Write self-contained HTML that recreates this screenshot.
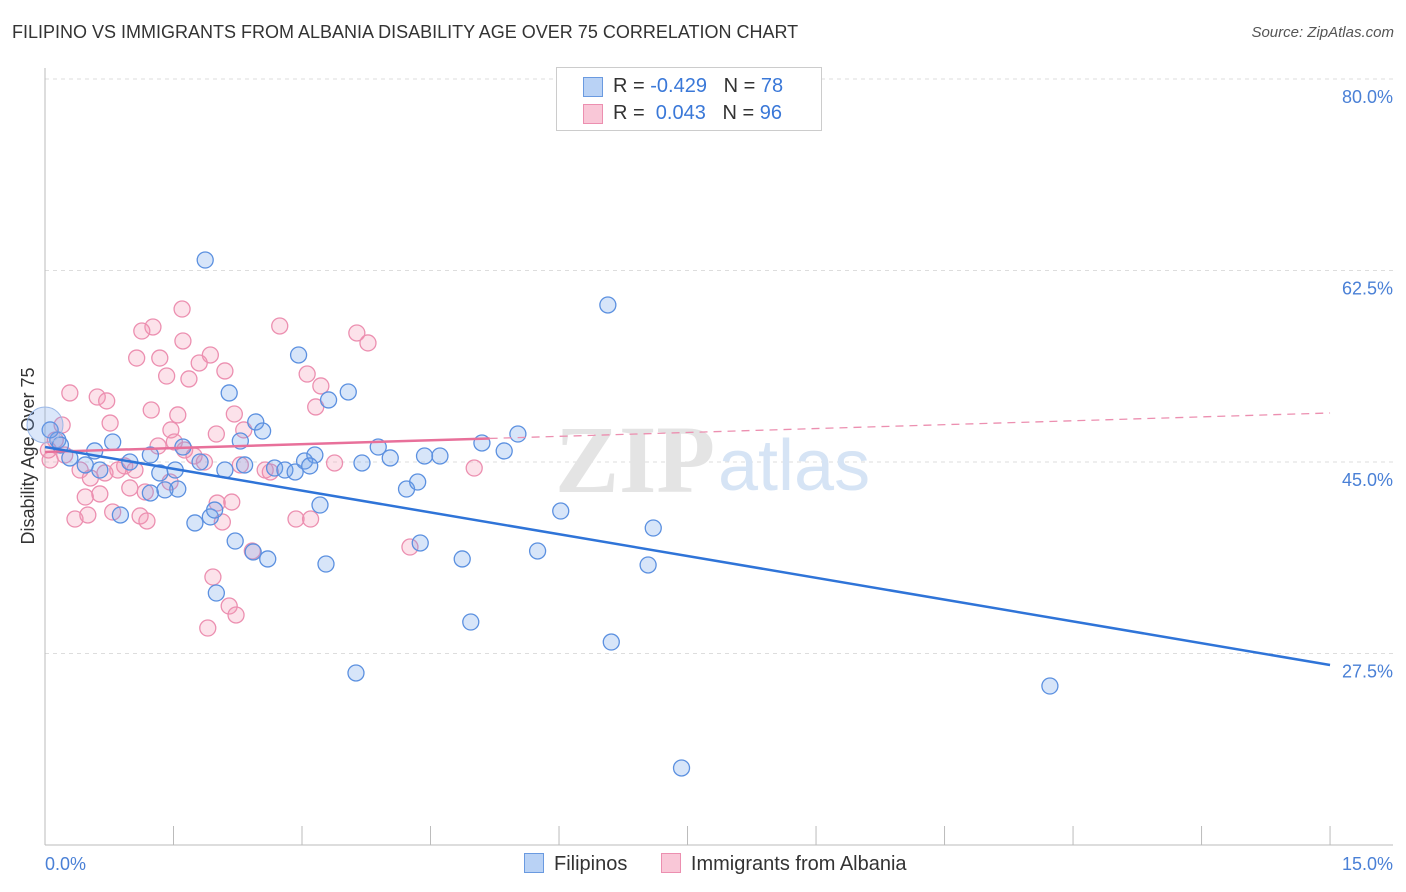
<!DOCTYPE html>
<html><head><meta charset="utf-8">
<style>
body{margin:0;background:#fff;font-family:"Liberation Sans",sans-serif;}
#wrap{position:relative;width:1406px;height:892px;overflow:hidden}
.t{position:absolute;white-space:nowrap}
</style></head>
<body>
<div id="wrap">
<div class="t" style="left:12px;top:22px;font-size:18px;color:#333">FILIPINO VS IMMIGRANTS FROM ALBANIA DISABILITY AGE OVER 75 CORRELATION CHART</div>
<div class="t" style="right:12px;top:24px;font-size:15px;color:#555;font-style:italic">Source: ZipAtlas.com</div>
<svg id="svg" width="1406" height="892" style="position:absolute;left:0;top:0"></svg>
</div>
<script>
const blueX=[1.87,6.57,2.96,3.54,2.15,3.31,2.46,2.54,5.52,5.10,5.36,3.89,2.28,1.61,0.79,0.58,0.15,0.06,0.18,0.29,0.47,0.64,0.99,1.23,1.34,1.52,1.81,2.10,2.33,2.68,2.80,2.92,3.03,3.15,3.09,3.70,4.03,4.43,4.61,4.22,4.35,1.55,1.23,1.40,0.88,1.75,1.93,1.98,2.22,2.43,2.60,3.21,3.28,4.38,4.87,5.75,6.02,7.10,7.04,2.00,4.97,6.61,3.63,11.73,7.43];
const blueY=[63.46,59.35,54.78,51.40,51.31,50.67,48.66,47.83,47.56,46.74,46.01,46.37,46.92,46.37,46.83,46.01,47.01,47.93,46.55,45.37,44.73,44.27,45.0,45.64,44.0,44.27,45.0,44.27,44.73,44.45,44.27,44.09,45.09,45.64,44.64,44.91,45.37,45.55,45.55,42.53,43.17,42.53,42.17,42.45,40.16,39.43,39.98,40.61,37.78,36.78,36.14,41.07,35.68,37.60,36.14,36.87,40.52,38.97,35.59,33.03,30.38,28.55,25.72,24.53,17.04];
const pinkX=[1.60,2.74,3.64,3.77,1.26,1.13,1.61,1.93,1.07,1.34,1.80,2.10,3.06,1.42,1.68,3.22,0.29,0.61,0.72,1.24,1.55,3.16,2.21,0.76,0.20,0.12,2.32,2.00,1.47,1.51,1.32,1.63,1.74,1.86,2.28,2.57,2.63,0.93,0.85,1.05,0.70,0.41,0.53,0.64,0.47,0.99,1.17,1.46,2.01,2.18,0.79,1.11,1.19,0.35,0.50,2.93,3.10,2.07,2.42,4.26,1.96,2.15,2.23,1.90,5.01,3.38,0.06,0.04,0.23];
const pinkY=[58.98,57.43,56.79,55.88,57.34,56.97,56.06,54.78,54.50,54.50,54.05,53.32,53.04,52.86,52.59,51.95,51.31,50.94,50.58,49.75,49.30,50.03,49.39,48.56,48.38,47.01,47.93,47.56,47.93,46.83,46.46,46.10,45.55,45.0,44.73,44.27,44.09,44.64,44.27,44.27,44.0,44.27,43.54,42.08,41.80,42.63,42.26,43.17,41.25,41.34,40.43,40.07,39.61,39.79,40.16,39.79,39.79,39.52,36.87,37.23,34.49,31.84,31.02,29.83,44.45,44.91,45.18,46.10,45.64];
const yTicks=[80,62.5,45,27.5];
const yTickLabels=["80.0%","62.5%","45.0%","27.5%"];
const xTickLabels=["0.0%","15.0%"];
const blueTrend=[46.37,26.45]; // y at x=0 and x=15
const pinkTrend=[45.92,49.48];
const pinkSolidEnd=5.19;

const X=v=>45+v*85.67, Y=v=>79+(80-v)*10.943;
const svg=document.getElementById('svg');const NS='http://www.w3.org/2000/svg';
function mk(tag,attrs,parent){const e=document.createElementNS(NS,tag);for(const k in attrs)e.setAttribute(k,attrs[k]);(parent||svg).appendChild(e);return e;}
// grid
yTicks.forEach((t,i)=>{
 const g=mk('line',{x1:45,x2:1393,y1:Y(t),y2:Y(t),stroke:'#ddd','stroke-dasharray':'4,4'});
 
 
 const tx=mk('text',{x:1393,y:Y(t)+24,'text-anchor':'end','font-size':18,fill:'#4a80d6','font-family':'Liberation Sans, sans-serif'});
 tx.textContent=yTickLabels[i];
 
 
});
mk('line',{x1:45,x2:45,y1:68,y2:845,stroke:'#bbb'});
mk('line',{x1:45,x2:1393,y1:845,y2:845,stroke:'#bbb'});
for(let i=0;i<=10;i++){const x=X(i*1.5);const tk=mk('line',{x1:x,x2:x,y1:826,y2:845,stroke:'#bbb'});
 
 }
[[0,'start',45],[1,'end',1393]].forEach(([i,a,x])=>{const t=mk('text',{x:x,y:870,'text-anchor':a,'font-size':18,fill:'#4a80d6','font-family':'Liberation Sans, sans-serif'});t.textContent=xTickLabels[i];
 
 });
const yt=mk('text',{x:34,y:456,'text-anchor':'middle','font-size':18,fill:'#333',transform:'rotate(-90 34 456)','font-family':'Liberation Sans, sans-serif'});yt.textContent='Disability Age Over 75';


// watermark
const wm=mk('text',{x:555,y:492,'font-size':96,fill:'#e4e4e4','font-family':'Liberation Serif, serif','font-weight':'bold'});wm.textContent='ZIP';


const wm2=mk('text',{x:718,y:490,'font-size':72,fill:'#d6e4f5','font-family':'Liberation Sans, sans-serif'});wm2.textContent='atlas';


// points
pinkX.forEach((v,i)=>{const c=mk('circle',{cx:X(v),cy:Y(pinkY[i]),r:8,fill:'rgba(244,150,180,0.28)',stroke:'#ec8fb0','stroke-width':1.3});
 
 });
blueX.forEach((v,i)=>{const c=mk('circle',{cx:X(v),cy:Y(blueY[i]),r:8,fill:'rgba(110,160,235,0.28)',stroke:'#5b90e0','stroke-width':1.3});
 
 });
const big=mk('circle',{cx:X(0),cy:Y(48.38),r:18,fill:'rgba(110,160,235,0.25)',stroke:'#9ab8e8','stroke-width':1});


// trends
const pf=x=>pinkTrend[0]+(pinkTrend[1]-pinkTrend[0])*x/15;
const pd=mk('line',{x1:X(pinkSolidEnd),y1:Y(pf(pinkSolidEnd)),x2:X(15),y2:Y(pinkTrend[1]),stroke:'#ec8fb0','stroke-width':1.3,'stroke-dasharray':'8,6'});


const ps=mk('line',{x1:X(0),y1:Y(pinkTrend[0]),x2:X(pinkSolidEnd),y2:Y(pf(pinkSolidEnd)),stroke:'#e8709a','stroke-width':2.5});


const bl=mk('line',{x1:X(0),y1:Y(blueTrend[0]),x2:X(15),y2:Y(blueTrend[1]),stroke:'#2f74d8','stroke-width':2.5});


</script>
<div style="position:absolute;left:556px;top:67px;width:264px;height:62px;border:1px solid #ccc;background:#fff;font-size:20px">
 <div style="position:absolute;left:26px;top:9px;width:18px;height:18px;background:#b9d2f5;border:1px solid #6a9ae0"></div>
 <div class="t" style="left:56px;top:7px;color:#333">R = <span style="color:#3a78d8">-0.429</span>&nbsp;&nbsp;&nbsp;N = <span style="color:#3a78d8">78</span></div>
 <div style="position:absolute;left:26px;top:36px;width:18px;height:18px;background:#f9c7d7;border:1px solid #ec8fb0"></div>
 <div class="t" style="left:56px;top:34px;color:#333">R = &nbsp;<span style="color:#3a78d8">0.043</span>&nbsp;&nbsp;&nbsp;N = <span style="color:#3a78d8">96</span></div>
</div>
<div class="t" style="left:524px;top:853px;font-size:20px;color:#333">
 <span><span style="display:inline-block;width:18px;height:18px;background:#b9d2f5;border:1px solid #6a9ae0;vertical-align:-3px;margin-right:10px"></span>Filipinos</span>
 <span style="margin-left:28px"><span style="display:inline-block;width:18px;height:18px;background:#f9c7d7;border:1px solid #ec8fb0;vertical-align:-3px;margin-right:10px"></span>Immigrants from Albania</span>
</div>
</body></html>
